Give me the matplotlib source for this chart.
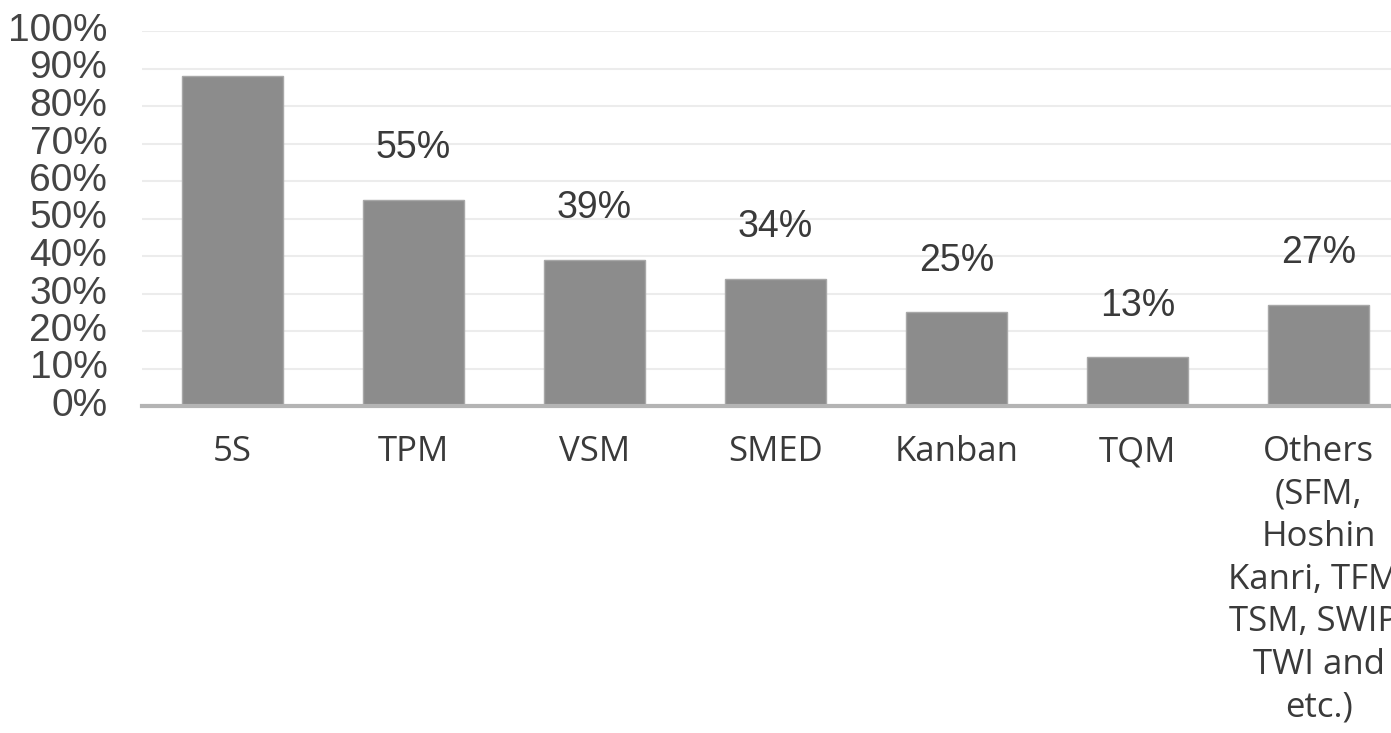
import matplotlib.pyplot as plt
import numpy as np

categories = ["5S", "TPM", "VSM", "SMED", "Kanban", "TQM",
              "Others\n(SFM,\nHoshin\nKanri, TFM,\nTSM, SWIP,\nTWI and\netc.)"]
values = [88, 55, 39, 34, 25, 13, 27]
labels = ["", "55%", "39%", "34%", "25%", "13%", "27%"]
yticks = list(range(0, 101, 10))

fig = plt.figure(figsize=(13.91, 7.33), dpi=100)
# axes run slightly past the right edge, like the cropped original
ax = fig.add_axes([142 / 1391, 1 - 406 / 733, 1267 / 1391, 375 / 733])

x = np.arange(len(categories))
ax.bar(x, values, width=0.56, color="#8c8c8c", edgecolor="#a8a8a8", linewidth=1, zorder=3)

for xi, v, lab in zip(x, values, labels):
    if lab:
        ax.annotate(lab, (xi, v), xytext=(0, 24), textcoords="offset points",
                    ha="center", va="bottom", fontsize=27, family="Liberation Sans",
                    color="#3a3a3a")

ax.set_xlim(-0.5, len(categories) - 0.5)
ax.set_ylim(0, 100)
ax.set_yticks(yticks)
ax.set_yticklabels([f"{t}%" for t in yticks], fontsize=28, family="Liberation Sans",
                   color="#444444")
ax.set_xticks(x)
ax.set_xticklabels(categories, fontsize=25, family="Open Sans", color="#3a3a3a",
                   linespacing=1.33, va="top")
ax.tick_params(axis="y", length=0, pad=25)
ax.tick_params(axis="x", length=0, pad=21)
for lab in ax.get_yticklabels():
    lab.set_verticalalignment("center")

ax.grid(axis="y", color="#ececec", linewidth=1.5, zorder=0)
for s in ["top", "right", "left"]:
    ax.spines[s].set_visible(False)
ax.spines["bottom"].set_color("#b4b4b4")
ax.spines["bottom"].set_linewidth(3)
ax.spines["bottom"].set_zorder(4)

fig.savefig("out.png", dpi=100)
